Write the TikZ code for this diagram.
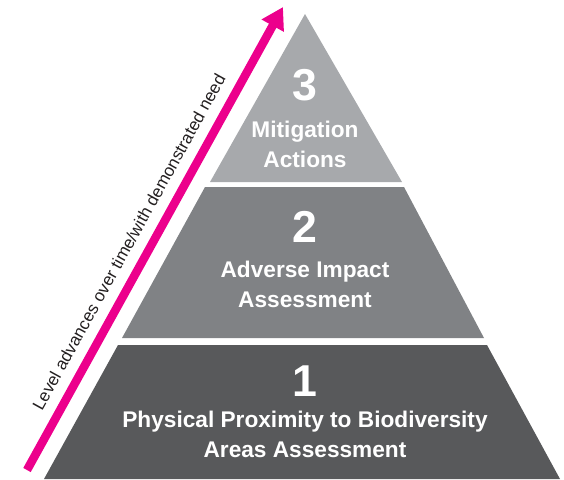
\documentclass[tikz,border=0pt]{standalone}
\usepackage{fontspec}
\setmainfont{Liberation Sans}
\usetikzlibrary{arrows.meta}
\definecolor{grisclaro}{HTML}{A7A9AC}
\definecolor{grismedio}{HTML}{808285}
\definecolor{grisoscuro}{HTML}{58595B}
\definecolor{rosafuerte}{HTML}{EC008C}
\definecolor{textoleyenda}{HTML}{231F20}
\tikzset{
  numero/.style={
    text=white,
    inner sep=0pt,
    font=\fontsize{33.5}{36}\selectfont\bfseries
  },
  nivel/.style={
    text=white,
    align=center,
    inner sep=0pt,
    font=\fontsize{17}{22}\selectfont\bfseries
  },
  leyenda/.style={
    text=textoleyenda,
    inner sep=0pt,
    font=\fontsize{12.8}{15}\selectfont
  },
  flecha/.style={
    -{Triangle[length=16pt,width=18pt]},
    line width=6.4pt,
    rosafuerte
  }
}
\begin{document}
\begin{tikzpicture}[x=0.75pt,y=-0.75pt]
\useasboundingbox (0,0) rectangle (564,479);
% niveles de la piramide
\fill[grisclaro] (305,14) -- (402,182) -- (210,182) -- cycle;
\fill[grismedio] (205,187) -- (404,187) -- (484,338) -- (122,338) -- cycle;
\fill[grisoscuro] (118,345) -- (487,345) -- (560,479) -- (44,479) -- cycle;
% textos (base = ultima linea)
\node[numero, anchor=base] (n3) at (305,100) {3};
\node[nivel, anchor=base] (t3) at (305,167) {Mitigation\\Actions};
\node[numero, anchor=base] (n2) at (305,242) {2};
\node[nivel, anchor=base] (t2) at (305,307) {Adverse Impact\\Assessment};
\node[numero, anchor=base] (n1) at (305,396) {1};
\node[nivel, anchor=base] (t1) at (305,457) {Physical Proximity to Biodiversity\\Areas Assessment};
% flecha
\coordinate (inicio) at (27,470);
\coordinate (punta) at (283,7);
\draw[flecha] (inicio) -- (punta)
  node[leyenda, pos=.47, sloped, above=8pt] (ley) {Level advances over time/with demonstrated need};
\end{tikzpicture}
\end{document}
